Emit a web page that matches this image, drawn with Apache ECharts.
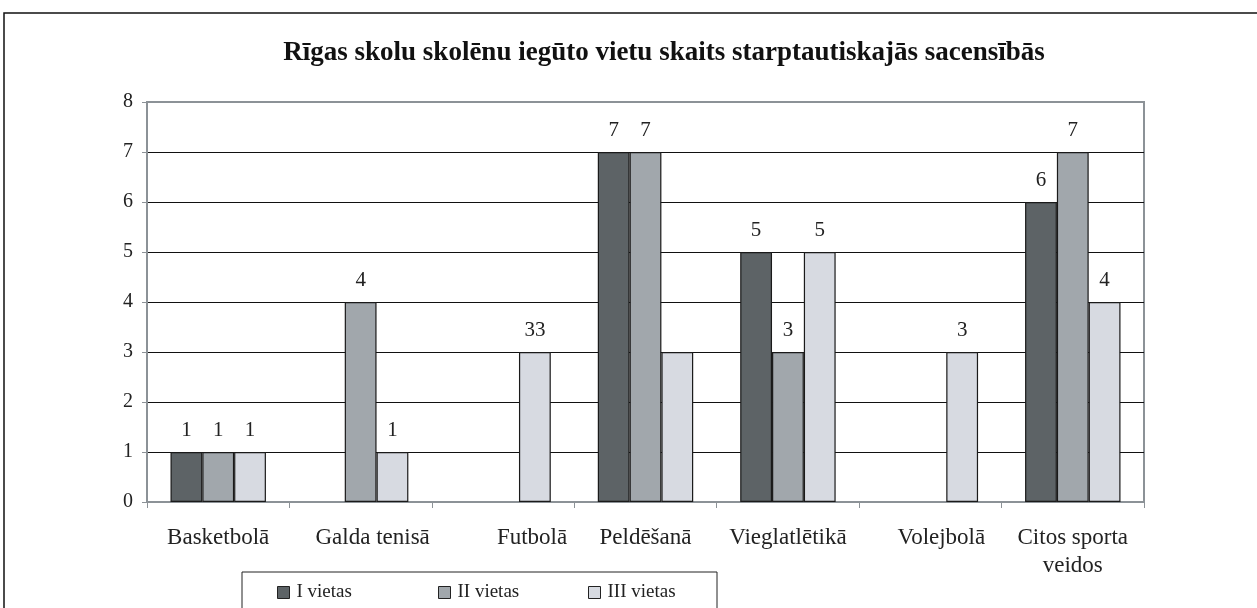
<!DOCTYPE html>
<html>
<head>
<meta charset="utf-8">
<script src="https://cdn.jsdelivr.net/npm/echarts@6/dist/echarts.min.js"></script>
<style>
  html, body { margin: 0; padding: 0; background: #fff; }
  #main { width: 1257px; height: 608px; }
</style>
</head>
<body>
<div id="main"></div>
<script>
// sports (categories)
var categories = ["Basketbolā", "Galda tenisā", "Futbolā", "Peldēšanā", "Vieglatlētikā", "Volejbolā", "Citos sporta\nveidos"];

// places won, null = no bar
var firstPlaces = [1, null, null, 7, 5, null, 6];
var secondPlaces = [1, 4, null, 7, 3, null, 7];
var thirdPlaces = [1, 1, 3, 3, 5, 3, 4];

// labels as printed in the original (it shows "33" over Futbolā and none over Peldēšanā III)
var firstLabels = ["1", "", "", "7", "5", "", "6"];
var secondLabels = ["1", "4", "", "7", "3", "", "7"];
var thirdLabels = ["1", "1", "33", "", "5", "3", "4"];

var seriesNames = ["I vietas", "II vietas", "III vietas"];
var yTicks = [0, 1, 2, 3, 4, 5, 6, 7, 8];

// some category labels sit off-centre in the original, shift them the same way (px)
var labelShift = [0, 12, 29, 0, 0, 11, 0];

var serif = "'Liberation Serif', 'DejaVu Serif', serif";
var axisGray = "#8c9297";

var myChart = echarts.init(document.getElementById("main"));

function makeSeries(name, values, labels, color) {
  return {
    name: name,
    type: "bar",
    data: values,
    barGap: "0%",
    barCategoryGap: "33%",
    itemStyle: {
      color: color,
      borderColor: "#1a1a1a",
      borderWidth: 1.2
    },
    label: {
      show: true,
      position: "top",
      distance: 11,
      fontFamily: serif,
      fontSize: 21,
      color: "#222",
      formatter: function (p) {
        return labels[p.dataIndex];
      }
    }
  };
}

// one legend per entry so the spacing follows the original
function makeLegend(name, left) {
  return {
    left: left,
    top: 583,
    icon: "rect",
    itemWidth: 12,
    itemHeight: 12,
    itemGap: 0,
    padding: 0,
    itemStyle: { borderColor: "#222", borderWidth: 1 },
    textStyle: { fontFamily: serif, fontSize: 19, color: "#222", padding: [0, 0, 0, 2] },
    data: [name]
  };
}

var option = {
  animation: false,
  title: {
    text: "Rīgas skolu skolēnu iegūto vietu skaits starptautiskajās sacensībās",
    left: 659,
    top: 35,
    textAlign: "center",
    textStyle: {
      fontFamily: serif,
      fontWeight: "bold",
      fontSize: 27,
      color: "#111"
    }
  },
  graphic: [
    {
      // outer frame
      type: "rect",
      shape: { x: 4, y: 13, width: 1400, height: 800 },
      style: { fill: null, stroke: "#111", lineWidth: 1.5 },
      silent: true
    },
    {
      // legend frame
      type: "rect",
      shape: { x: 242, y: 572, width: 475, height: 60 },
      style: { fill: null, stroke: "#222", lineWidth: 1 },
      silent: true
    }
  ],
  legend: [
    makeLegend(seriesNames[0], 277),
    makeLegend(seriesNames[1], 438),
    makeLegend(seriesNames[2], 588)
  ],
  grid: {
    left: 147,
    right: 113,
    top: 102,
    bottom: 106,
    show: true,
    borderColor: axisGray,
    borderWidth: 2,
    containLabel: false
  },
  xAxis: {
    type: "category",
    data: categories.map(function (c, i) {
      return { value: c, textStyle: { padding: [0, 0, 0, labelShift[i] * 2] } };
    }),
    axisLine: { lineStyle: { color: axisGray, width: 2 } },
    axisTick: { show: true, length: 6, lineStyle: { color: axisGray } },
    axisLabel: {
      interval: 0,
      margin: 22,
      fontFamily: serif,
      fontSize: 23,
      color: "#222",
      lineHeight: 28
    }
  },
  yAxis: {
    type: "value",
    min: yTicks[0],
    max: yTicks[yTicks.length - 1],
    interval: 1,
    axisLine: { show: true, lineStyle: { color: axisGray, width: 2 } },
    axisTick: { show: true, length: 5, lineStyle: { color: axisGray } },
    axisLabel: {
      margin: 14,
      fontFamily: serif,
      fontSize: 20,
      color: "#222"
    },
    splitLine: { showMinLine: false, showMaxLine: false, lineStyle: { color: "#111", width: 1 } }
  },
  series: [
    makeSeries(seriesNames[0], firstPlaces, firstLabels, "#5d6366"),
    makeSeries(seriesNames[1], secondPlaces, secondLabels, "#a1a7ac"),
    makeSeries(seriesNames[2], thirdPlaces, thirdLabels, "#d7dae1")
  ]
};

myChart.setOption(option);
</script>
</body>
</html>
